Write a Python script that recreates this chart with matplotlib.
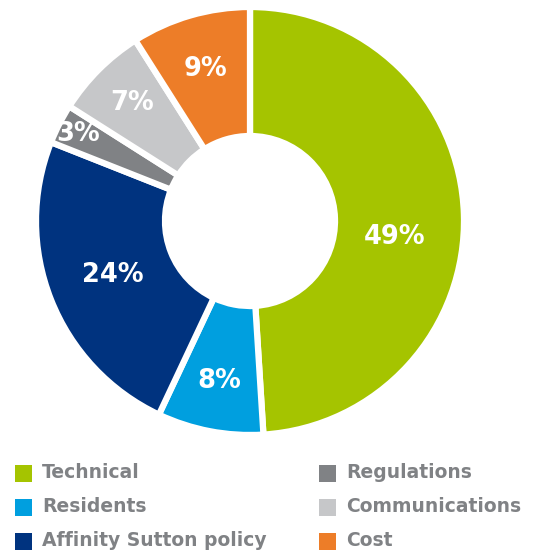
import matplotlib.pyplot as plt
import numpy as np
from matplotlib.patches import Rectangle

# share of issues raised, by category
categories = ['Technical', 'Residents', 'Affinity Sutton policy',
              'Regulations', 'Communications', 'Cost']
shares = [49, 8, 24, 3, 7, 9]
colors = ['#A5C400', '#009FDF', '#00337F', '#808285', '#C6C7C9', '#ED7D28']

# radial position of each percentage label (fraction of outer radius)
label_r = [0.68, 0.76, 0.69, 0.90, 0.78, 0.74]
label_nudge = [-8, 0, 0, 0, 0, 0]  # degrees

W, H = 536, 553
fig = plt.figure(figsize=(W / 100, H / 100), dpi=100)
ax = fig.add_axes([0, 0, 1, 1])

cx, cy = 250, H - 221
R = 214
hole = 85

wedges, _ = ax.pie(shares, colors=colors, startangle=90, counterclock=False,
                   center=(cx, cy), radius=R,
                   wedgeprops=dict(width=R - hole, edgecolor='white', linewidth=4.5))

# percentage labels at the middle of each wedge
total = sum(shares)
start = 90.0
for val, r, nudge in zip(shares, label_r, label_nudge):
    span = 360.0 * val / total
    mid = np.deg2rad(start - span / 2 + nudge)
    ax.text(cx + r * R * np.cos(mid), cy + r * R * np.sin(mid), f'{val}%',
            ha='center', va='center', color='white', fontsize=18.5,
            fontweight='bold', family='DejaVu Sans')
    start -= span

# two-column legend underneath
row_y = [H - 473, H - 507, H - 541]
col_x = [15, 319]
box = 17
for i, (lab, col) in enumerate(zip(categories, colors)):
    x = col_x[i // 3]
    y = row_y[i % 3]
    ax.add_patch(Rectangle((x, y - box / 2), box, box, facecolor=col, edgecolor='none'))
    ax.text(x + box + 10, y, lab, ha='left', va='center', color='#808285',
            fontsize=13.5, fontweight='bold', family='DejaVu Sans')

ax.set_xlim(0, W)
ax.set_ylim(0, H)
ax.set_aspect('auto')
ax.axis('off')

fig.savefig('out.png', dpi=100)
